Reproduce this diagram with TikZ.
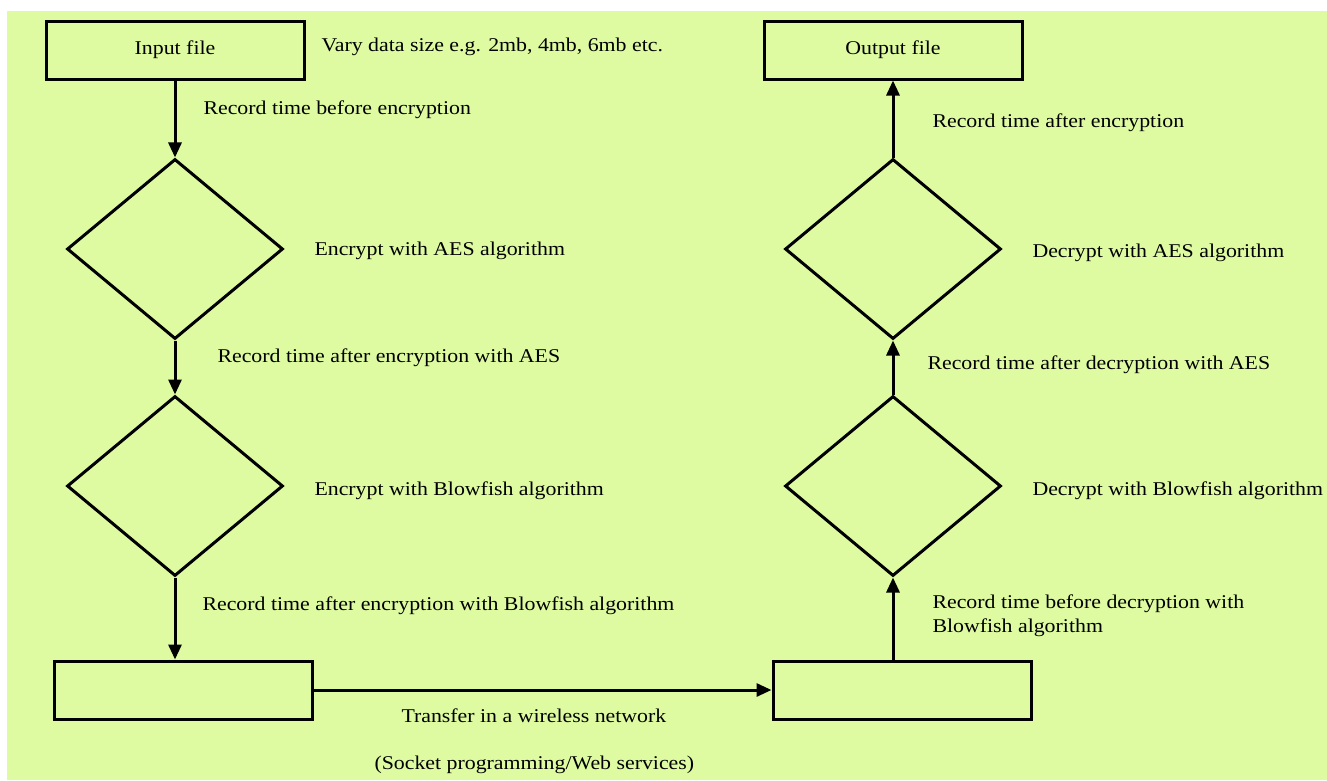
\documentclass[tikz,border=0pt]{standalone}
\usepackage{fontspec}
\setmainfont{Liberation Serif}[FakeStretch=1.12]
\usepackage{tikz}
\usetikzlibrary{shapes.geometric,arrows.meta}
\definecolor{bgreen}{RGB}{222,251,162}

\begin{document}
\begin{tikzpicture}[x=1pt,y=-1pt,line width=3pt,font=\fontsize{19.5}{24}\selectfont,
  box/.style={draw,rectangle,minimum width=258pt,minimum height=58pt,inner sep=0pt},
  decide/.style={draw,diamond,minimum width=216pt,minimum height=180pt,inner sep=0pt},
  note/.style={anchor=west,inner sep=0pt},
  flow/.style={-{Triangle[width=13pt,length=15pt]}}]

\useasboundingbox (0,0) rectangle (1327,780);
\fill[bgreen] (7,11) rectangle (1327,780);

\node[box] (infile) at (175,50) {Input file};
\node[note] (vary) at (320,47) {Vary data size e.g. 2mb, 4mb, 6mb etc.};
\node[decide] (aesenc) at (175,249) {};
\node[decide] (bfenc) at (175,486) {};
\node[box] (sendbox) at (183,690) {};

\node[box] (outfile) at (893,50) {Output file};
\node[decide] (aesdec) at (893,249) {};
\node[decide] (bfdec) at (893,486) {};
\node[box] (recvbox) at (902,690) {};

\node[note] (before) at (202,110) {Record time before encryption};
\node[note] (encaes) at (313,251) {Encrypt with AES algorithm};
\node[note] (afteraes) at (216,358) {Record time after encryption with AES};
\node[note] (encbf) at (313,491) {Encrypt with Blowfish algorithm};
\node[note] (afterbf) at (201,606) {Record time after encryption with Blowfish algorithm};
\node[note] (transfer) at (400,716) {Transfer in a wireless network};
\node[note] (socket) at (373,765) {(Socket programming/Web services)};

\node[note] (afterenc) at (931,123) {Record time after encryption};
\node[note] (decaes) at (1031,253) {Decrypt with AES algorithm};
\node[note] (afterdec) at (926,365) {Record time after decryption with AES};
\node[note] (decbf) at (1031,491) {Decrypt with Blowfish algorithm};
\node[note,align=left] (beforedec) at (931,616) {Record time before decryption with\\Blowfish algorithm};

\draw[flow] (infile) -- (aesenc);
\draw[flow] (aesenc) -- (bfenc);
\draw[flow] (bfenc.south) -- (bfenc.south |- sendbox.north);
\draw[flow] (sendbox) -- (recvbox);
\draw[flow] (recvbox.north -| bfdec.south) -- (bfdec.south);
\draw[flow] (bfdec) -- (aesdec);
\draw[flow] (aesdec) -- (outfile);
\end{tikzpicture}
\end{document}
